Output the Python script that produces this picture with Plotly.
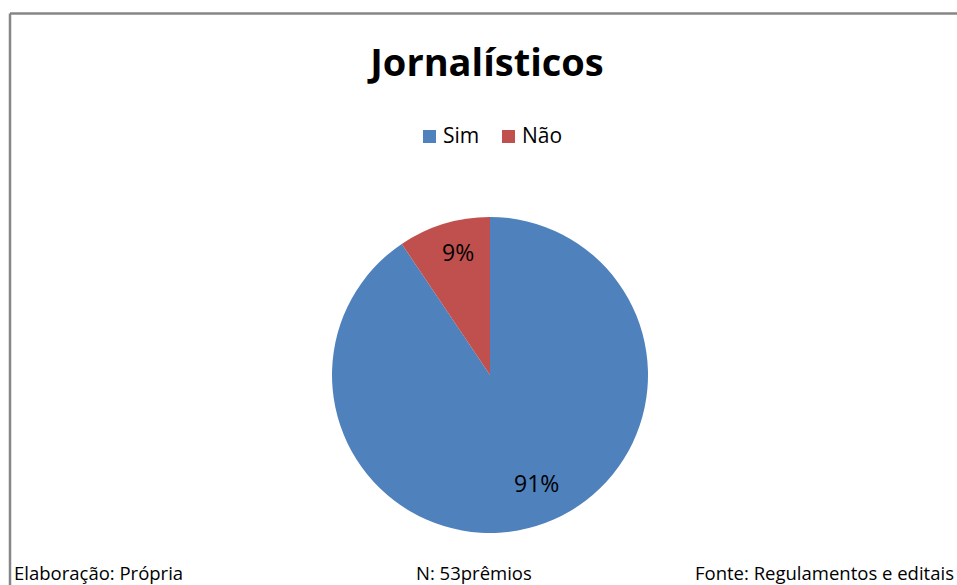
import math
import plotly.graph_objects as go

categories = ["Sim", "Não"]
values = [48, 5]
colors = ["#4F81BD", "#C0504D"]

title_text = "Jornalísticos"
footer_left = "Elaboração: Própria"
footer_mid = "N: 53prêmios"
footer_right = "Fonte: Regulamentos e editais"

W, H = 957, 585
FONT = "Open Sans"
CX, CY, R = 490, 375, 158
# label anchor points (pixels), one per slice
label_px = [(536, 483), (458, 252)]

fig = go.Figure(go.Pie(
    labels=categories,
    values=values,
    marker=dict(colors=colors, line=dict(width=0)),
    sort=False,
    direction="clockwise",
    rotation=0,
    textinfo="none",
    domain=dict(x=[(CX - R) / W, (CX + R) / W],
                y=[(H - CY - R) / H, (H - CY + R) / H]),
    hoverinfo="label+percent",
    showlegend=False,
))

total = sum(values)
annotations = []
for v, (px, py) in zip(values, label_px):
    annotations.append(dict(
        text=f"{round(v / total * 100)}%", x=px / W, y=1 - py / H,
        xref="paper", yref="paper", xanchor="center", yanchor="middle",
        showarrow=False, font=dict(family=FONT, size=23, color="#000000")))

# custom legend
shapes = [
    dict(type="line", xref="paper", yref="paper",
         x0=10 / W, x1=1.01, y0=1 - 13.5 / H, y1=1 - 13.5 / H,
         line=dict(color="#868686", width=2.5)),
    dict(type="line", xref="paper", yref="paper",
         x0=10 / W, x1=10 / W, y0=-0.05, y1=1 - 13.5 / H,
         line=dict(color="#868686", width=2.5)),
]
legend_x = [423, 502]
LEG_Y = 136
for name, col, lx in zip(categories, colors, legend_x):
    shapes.append(dict(type="rect", xref="paper", yref="paper",
                       x0=lx / W, x1=(lx + 13) / W,
                       y0=1 - (LEG_Y + 7) / H, y1=1 - (LEG_Y - 6) / H,
                       fillcolor=col, line=dict(width=0)))
    annotations.append(dict(text=name, x=(lx + 18) / W, y=1 - (LEG_Y - 1) / H,
                            xref="paper", yref="paper", xanchor="left", yanchor="middle",
                            showarrow=False,
                            font=dict(family=FONT, size=21, color="#000000")))

FY = 572
for txt, fx, anc in [(footer_left, 12, "left"), (footer_mid, 414, "left"), (footer_right, 956, "right")]:
    annotations.append(dict(text=txt, x=fx / W, y=1 - FY / H, xref="paper", yref="paper",
                            xanchor=anc, yanchor="middle", showarrow=False,
                            font=dict(family=FONT, size=18.5, color="#000000")))

fig.update_layout(
    width=W, height=H,
    margin=dict(l=0, r=0, t=0, b=0),
    paper_bgcolor="white",
    plot_bgcolor="white",
    font=dict(family=FONT, color="#000000"),
    title=dict(text="<b>" + title_text + "</b>", x=487 / W, xanchor="center",
               y=1 - 63 / H, yanchor="middle",
               font=dict(family=FONT, size=38, color="#000000")),
    showlegend=False,
    shapes=shapes,
    annotations=annotations,
)

fig.write_html("out.html")
